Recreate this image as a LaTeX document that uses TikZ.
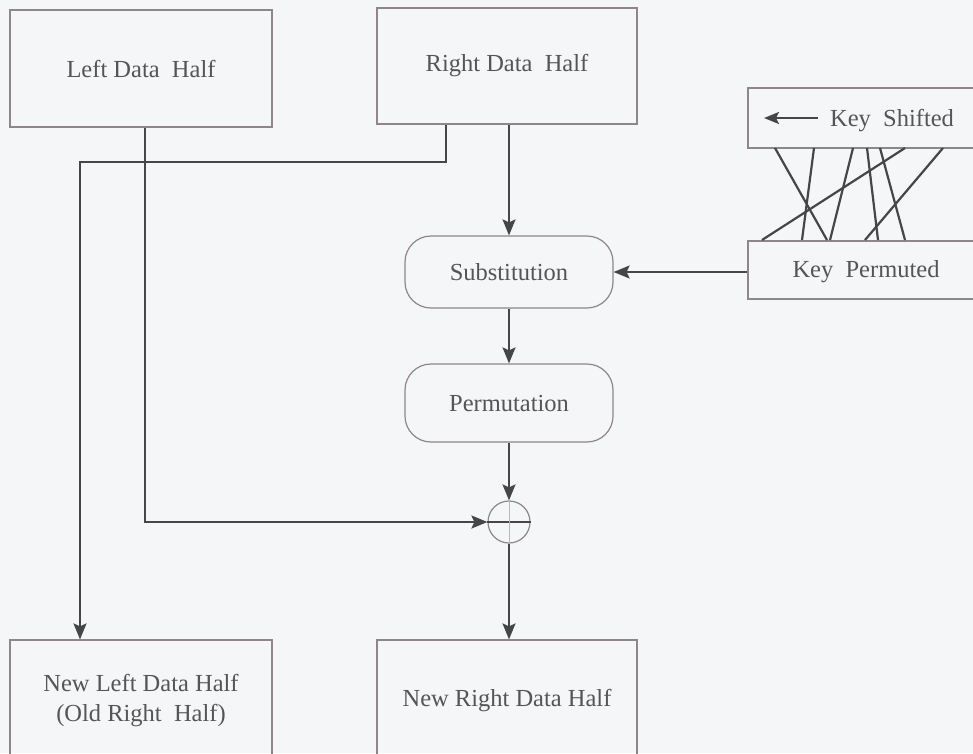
\documentclass[tikz,border=0pt]{standalone}
\usepackage{fontspec}
\setmainfont{Liberation Serif}
\usetikzlibrary{arrows.meta}
\definecolor{bgc}{HTML}{F4F6F8}
\definecolor{edgec}{HTML}{8E8688}
\definecolor{linec}{HTML}{464646}
\definecolor{txtc}{HTML}{555555}
\begin{document}
\begin{tikzpicture}[x=1pt,y=-1pt,
  every node/.style={font=\fontsize{24.5}{30}\selectfont, text=txtc, inner sep=0pt},
  box/.style={draw=edgec, line width=1.2pt, rectangle, align=center},
  rbox/.style={draw=edgec, line width=1.2pt, rectangle, rounded corners=26pt, align=center},
  conn/.style={draw=linec, line width=2pt},
  arr/.style={conn, -{Stealth[length=16pt,width=13pt,inset=3pt]}},
  keyline/.style={draw=linec, line width=2.2pt}]
\useasboundingbox (0,0) rectangle (973,753);
\fill[bgc] (0,0) rectangle (973,753);

% boxes
\node[box, minimum width=262pt, minimum height=117pt] (L) at (141,68.5) {Left Data\ \ Half};
\node[box, minimum width=260pt, minimum height=116pt] (R) at (507,66) {Right Data\ \ Half};
\node[rbox, minimum width=208pt, minimum height=72pt] (S) at (509,272) {Substitution};
\node[rbox, minimum width=208pt, minimum height=78pt] (P) at (509,403) {Permutation};
\node[draw=edgec, line width=1.2pt, circle, minimum size=42pt] (X) at (509,522) {};
\node[box, minimum width=262pt, minimum height=122pt] (NL) at (141,701) {New Left Data Half\\(Old Right\ \ Half)};
\node[box, minimum width=260pt, minimum height=122pt] (NR) at (507,701) {New Right Data Half};
\node[box, minimum width=227pt, minimum height=60pt] (KS) at (861.5,118) {};
\node[box, minimum width=227pt, minimum height=58pt] (KP) at (861.5,270) {};
\node (kst) at (892,121) {Key\ \ Shifted};
\node (kpt) at (866,272) {Key\ \ Permuted};

% xor bar
\draw[linec, line width=1.8pt] (X.west) -- (X.east);
\draw[edgec!60, line width=1pt] (X.north) -- (X.south);

% key-shifted arrow
\coordinate (ka) at (818,118);
\coordinate (kb) at (764,118);
\draw[conn, line width=2.2pt, -{Stealth[length=15pt,width=12pt,inset=3pt]}] (ka) -- (kb);

% key permutation lines
\draw[keyline] (775,148) -- (827,240);
\draw[keyline] (814,148) -- (802,240);
\draw[keyline] (853,148) -- (830,240);
\draw[keyline] (867,148) -- (878,240);
\draw[keyline] (880,148) -- (905,240);
\draw[keyline] (905,148) -- (762,240);
\draw[keyline] (943,148) -- (865,240);

% connectors
\coordinate (l1) at ([xshift=4pt]L.south);
\draw[arr] (l1) -- (l1 |- X.west) -- (X.west);

\coordinate (r1) at ([xshift=-61pt]R.south);
\coordinate (r2) at (446,162);
\coordinate (r3) at (80,162);
\draw[arr] (r1) -- (r2) -- (r3) -- (r3 |- NL.north);

\coordinate (r4) at (R.south -| S.north);
\draw[arr] (r4) -- (S.north);
\draw[arr] (S.south) -- (P.north);
\draw[arr] (P.south) -- (X.north);
\draw[arr] (X.south) -- (X.south |- NR.north);
\draw[arr] (KP.west |- S.east) -- (S.east);
\end{tikzpicture}
\end{document}
